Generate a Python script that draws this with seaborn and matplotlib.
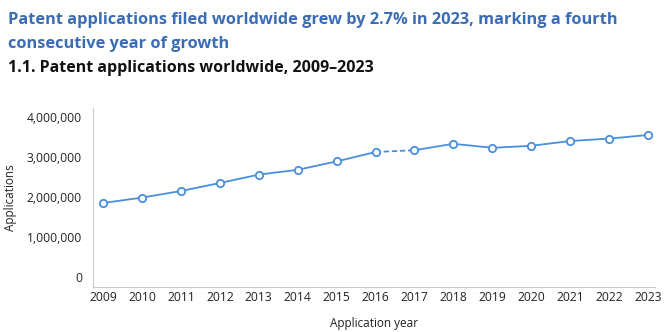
import matplotlib
matplotlib.use("Agg")
import matplotlib.pyplot as plt
import seaborn as sns
import pandas as pd
from matplotlib.ticker import FuncFormatter

years = [2009, 2010, 2011, 2012, 2013, 2014, 2015, 2016, 2017, 2018, 2019, 2020, 2021, 2022, 2023]
applications = [1850000, 1985000, 2150000, 2350000, 2560000, 2680000, 2890000, 3125000,
                3170000, 3330000, 3230000, 3280000, 3400000, 3460000, 3550000]
yticks = [0, 1000000, 2000000, 3000000, 4000000]

df = pd.DataFrame({"year": years, "applications": applications})

sns.set_theme(style="white")
plt.rcParams['font.family'] = ['Open Sans', 'DejaVu Sans']

fig = plt.figure(figsize=(6.7, 3.32), dpi=100)
ax = fig.add_axes([93/670, 1 - 287/332, (655-93)/670, (287-108)/332])

blue = "#4a8fdc"
pos = list(range(len(years)))
df["pos"] = pos
seg1 = df.iloc[:8]
seg2 = df.iloc[7:9]
seg3 = df.iloc[8:]
sns.lineplot(data=seg1, x="pos", y="applications", ax=ax, color=blue, lw=1.3)
sns.lineplot(data=seg2, x="pos", y="applications", ax=ax, color=blue, lw=1.3, linestyle=(0, (3, 1.5)))
sns.lineplot(data=seg3, x="pos", y="applications", ax=ax, color=blue, lw=1.3)
ax.scatter(df["pos"], df["applications"], s=28, facecolor="white", edgecolor=blue, linewidth=1.3, zorder=5)

ax.set_xlim(-0.26, len(years) - 1 + 0.18)
ax.set_ylim(-250000, 4225000)
ax.set_xticks(pos)
ax.set_xticklabels([str(y) for y in years], fontsize=8.7, color="#222222")
ax.set_yticks(yticks)
ax.yaxis.set_major_formatter(FuncFormatter(lambda v, p: f"{int(v):,}"))
ax.tick_params(axis="y", labelsize=8.7, colors="#222222", length=0, pad=8)
ax.tick_params(axis="x", length=0, pad=3)
for s in ["top", "right"]:
    ax.spines[s].set_visible(False)
for s in ["left", "bottom"]:
    ax.spines[s].set_color("#cccccc")
    ax.spines[s].set_linewidth(0.8)
ax.set_xlabel("Application year", fontsize=8.5, color="#222222", labelpad=9)
ax.set_ylabel("Applications", fontsize=8.5, color="#222222", labelpad=7)

fig.text(8/670, 1 - 20/332, "Patent applications filed worldwide grew by 2.7% in 2023, marking a fourth",
         fontsize=11.8, fontweight="bold", color="#3b6db5", va="center", ha="left")
fig.text(8/670, 1 - 44/332, "consecutive year of growth",
         fontsize=11.8, fontweight="bold", color="#3b6db5", va="center", ha="left")
fig.text(8/670, 1 - 68/332, "1.1. Patent applications worldwide, 2009\u20132023",
         fontsize=11.5, fontweight="bold", color="#111111", va="center", ha="left")

fig.savefig("out.png", dpi=100)
